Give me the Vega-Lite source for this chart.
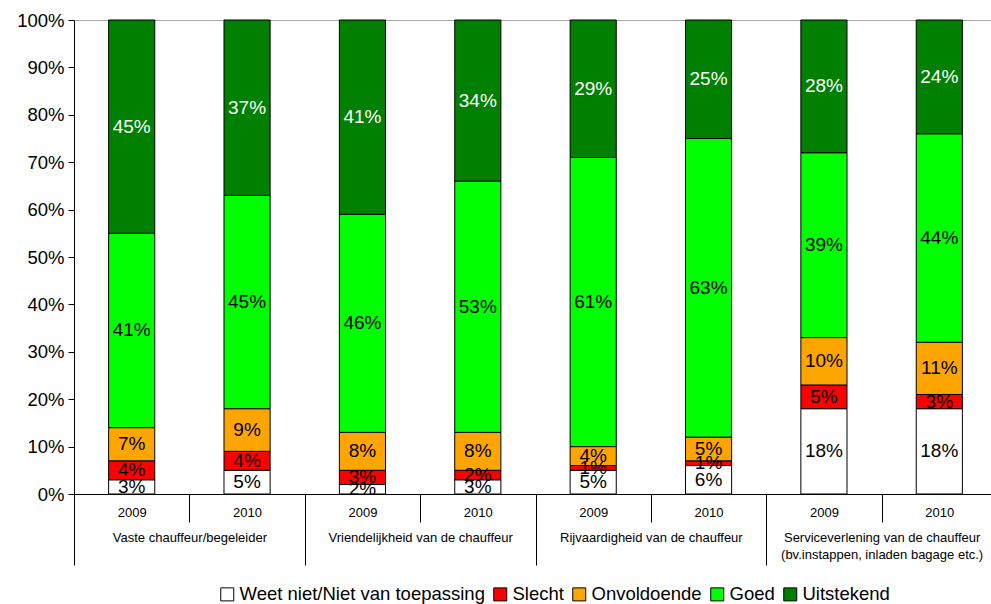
{
  "$schema": "https://vega.github.io/schema/vega-lite/v6.json",
  "width": 917,
  "height": 474,
  "autosize": "none",
  "padding": {"left": 74, "top": 20, "right": 0, "bottom": 110},
  "background": "white",
  "config": {"font": "Liberation Sans", "view": {"stroke": null}},
  "data": {"values": [
    {"cat": "Vaste chauffeur/begeleider", "bar": "Vaste chauffeur/begeleider|2009", "r": "Weet niet/Niet van toepassing", "k": 1, "v": 0.03},
    {"cat": "Vaste chauffeur/begeleider", "bar": "Vaste chauffeur/begeleider|2009", "r": "Slecht", "k": 2, "v": 0.04},
    {"cat": "Vaste chauffeur/begeleider", "bar": "Vaste chauffeur/begeleider|2009", "r": "Onvoldoende", "k": 3, "v": 0.07},
    {"cat": "Vaste chauffeur/begeleider", "bar": "Vaste chauffeur/begeleider|2009", "r": "Goed", "k": 4, "v": 0.41},
    {"cat": "Vaste chauffeur/begeleider", "bar": "Vaste chauffeur/begeleider|2009", "r": "Uitstekend", "k": 5, "v": 0.45},
    {"cat": "Vaste chauffeur/begeleider", "bar": "Vaste chauffeur/begeleider|2010", "r": "Weet niet/Niet van toepassing", "k": 1, "v": 0.05},
    {"cat": "Vaste chauffeur/begeleider", "bar": "Vaste chauffeur/begeleider|2010", "r": "Slecht", "k": 2, "v": 0.04},
    {"cat": "Vaste chauffeur/begeleider", "bar": "Vaste chauffeur/begeleider|2010", "r": "Onvoldoende", "k": 3, "v": 0.09},
    {"cat": "Vaste chauffeur/begeleider", "bar": "Vaste chauffeur/begeleider|2010", "r": "Goed", "k": 4, "v": 0.45},
    {"cat": "Vaste chauffeur/begeleider", "bar": "Vaste chauffeur/begeleider|2010", "r": "Uitstekend", "k": 5, "v": 0.37},
    {"cat": "Vriendelijkheid van de chauffeur", "bar": "Vriendelijkheid van de chauffeur|2009", "r": "Weet niet/Niet van toepassing", "k": 1, "v": 0.02},
    {"cat": "Vriendelijkheid van de chauffeur", "bar": "Vriendelijkheid van de chauffeur|2009", "r": "Slecht", "k": 2, "v": 0.03},
    {"cat": "Vriendelijkheid van de chauffeur", "bar": "Vriendelijkheid van de chauffeur|2009", "r": "Onvoldoende", "k": 3, "v": 0.08},
    {"cat": "Vriendelijkheid van de chauffeur", "bar": "Vriendelijkheid van de chauffeur|2009", "r": "Goed", "k": 4, "v": 0.46},
    {"cat": "Vriendelijkheid van de chauffeur", "bar": "Vriendelijkheid van de chauffeur|2009", "r": "Uitstekend", "k": 5, "v": 0.41},
    {"cat": "Vriendelijkheid van de chauffeur", "bar": "Vriendelijkheid van de chauffeur|2010", "r": "Weet niet/Niet van toepassing", "k": 1, "v": 0.03},
    {"cat": "Vriendelijkheid van de chauffeur", "bar": "Vriendelijkheid van de chauffeur|2010", "r": "Slecht", "k": 2, "v": 0.02},
    {"cat": "Vriendelijkheid van de chauffeur", "bar": "Vriendelijkheid van de chauffeur|2010", "r": "Onvoldoende", "k": 3, "v": 0.08},
    {"cat": "Vriendelijkheid van de chauffeur", "bar": "Vriendelijkheid van de chauffeur|2010", "r": "Goed", "k": 4, "v": 0.53},
    {"cat": "Vriendelijkheid van de chauffeur", "bar": "Vriendelijkheid van de chauffeur|2010", "r": "Uitstekend", "k": 5, "v": 0.34},
    {"cat": "Rijvaardigheid van de chauffeur", "bar": "Rijvaardigheid van de chauffeur|2009", "r": "Weet niet/Niet van toepassing", "k": 1, "v": 0.05},
    {"cat": "Rijvaardigheid van de chauffeur", "bar": "Rijvaardigheid van de chauffeur|2009", "r": "Slecht", "k": 2, "v": 0.01},
    {"cat": "Rijvaardigheid van de chauffeur", "bar": "Rijvaardigheid van de chauffeur|2009", "r": "Onvoldoende", "k": 3, "v": 0.04},
    {"cat": "Rijvaardigheid van de chauffeur", "bar": "Rijvaardigheid van de chauffeur|2009", "r": "Goed", "k": 4, "v": 0.61},
    {"cat": "Rijvaardigheid van de chauffeur", "bar": "Rijvaardigheid van de chauffeur|2009", "r": "Uitstekend", "k": 5, "v": 0.29},
    {"cat": "Rijvaardigheid van de chauffeur", "bar": "Rijvaardigheid van de chauffeur|2010", "r": "Weet niet/Niet van toepassing", "k": 1, "v": 0.06},
    {"cat": "Rijvaardigheid van de chauffeur", "bar": "Rijvaardigheid van de chauffeur|2010", "r": "Slecht", "k": 2, "v": 0.01},
    {"cat": "Rijvaardigheid van de chauffeur", "bar": "Rijvaardigheid van de chauffeur|2010", "r": "Onvoldoende", "k": 3, "v": 0.05},
    {"cat": "Rijvaardigheid van de chauffeur", "bar": "Rijvaardigheid van de chauffeur|2010", "r": "Goed", "k": 4, "v": 0.63},
    {"cat": "Rijvaardigheid van de chauffeur", "bar": "Rijvaardigheid van de chauffeur|2010", "r": "Uitstekend", "k": 5, "v": 0.25},
    {"cat": "Serviceverlening van de chauffeur|(bv.instappen, inladen bagage etc.)", "bar": "Serviceverlening|2009", "r": "Weet niet/Niet van toepassing", "k": 1, "v": 0.18},
    {"cat": "Serviceverlening van de chauffeur|(bv.instappen, inladen bagage etc.)", "bar": "Serviceverlening|2009", "r": "Slecht", "k": 2, "v": 0.05},
    {"cat": "Serviceverlening van de chauffeur|(bv.instappen, inladen bagage etc.)", "bar": "Serviceverlening|2009", "r": "Onvoldoende", "k": 3, "v": 0.10},
    {"cat": "Serviceverlening van de chauffeur|(bv.instappen, inladen bagage etc.)", "bar": "Serviceverlening|2009", "r": "Goed", "k": 4, "v": 0.39},
    {"cat": "Serviceverlening van de chauffeur|(bv.instappen, inladen bagage etc.)", "bar": "Serviceverlening|2009", "r": "Uitstekend", "k": 5, "v": 0.28},
    {"cat": "Serviceverlening van de chauffeur|(bv.instappen, inladen bagage etc.)", "bar": "Serviceverlening|2010", "r": "Weet niet/Niet van toepassing", "k": 1, "v": 0.18},
    {"cat": "Serviceverlening van de chauffeur|(bv.instappen, inladen bagage etc.)", "bar": "Serviceverlening|2010", "r": "Slecht", "k": 2, "v": 0.03},
    {"cat": "Serviceverlening van de chauffeur|(bv.instappen, inladen bagage etc.)", "bar": "Serviceverlening|2010", "r": "Onvoldoende", "k": 3, "v": 0.11},
    {"cat": "Serviceverlening van de chauffeur|(bv.instappen, inladen bagage etc.)", "bar": "Serviceverlening|2010", "r": "Goed", "k": 4, "v": 0.44},
    {"cat": "Serviceverlening van de chauffeur|(bv.instappen, inladen bagage etc.)", "bar": "Serviceverlening|2010", "r": "Uitstekend", "k": 5, "v": 0.24}
  ]},
  "layer": [
    {
      "mark": {"type": "bar", "width": {"band": 0.4}, "stroke": "black", "strokeWidth": 1},
      "encoding": {
        "x": {"field": "bar", "type": "nominal", "sort": null,
          "scale": {"range": [0, 923], "paddingInner": 0, "paddingOuter": 0},
          "axis": {"labelExpr": "slice(datum.label, -4)", "tickBand": "extent", "tickSize": 28, "tickColor": "black", "domainColor": "black", "labelFontSize": 13, "labelColor": "black", "labelPadding": -16, "labelAngle": 0, "labelBaseline": "top", "labelOverlap": false, "title": null}},
        "y": {"field": "v", "type": "quantitative", "stack": "zero",
          "scale": {"domain": [0, 1]},
          "axis": {"format": ".0%", "values": [0, 0.1, 0.2, 0.3, 0.4, 0.5, 0.6, 0.7, 0.8, 0.9, 1], "tickSize": 6, "tickColor": "black", "domainColor": "black", "labelFontSize": 18.5, "labelColor": "black", "labelPadding": 4, "title": null, "grid": true,
            "gridColor": {"condition": {"test": "datum.value === 1", "value": "#a6a6a6"}, "value": "transparent"}}},
        "color": {"field": "r", "type": "nominal",
          "sort": ["Weet niet/Niet van toepassing", "Slecht", "Onvoldoende", "Goed", "Uitstekend"],
          "scale": {"domain": ["Weet niet/Niet van toepassing", "Slecht", "Onvoldoende", "Goed", "Uitstekend"], "range": ["#FFFFFF", "#FF0000", "#FFA500", "#00FF00", "#008000"]},
          "legend": {"orient": "none", "legendX": 144, "legendY": 565, "direction": "horizontal", "title": null, "labelFontSize": 18.5, "labelColor": "black", "symbolType": "square", "symbolSize": 169, "symbolStrokeColor": "black", "symbolStrokeWidth": 1, "symbolOpacity": 1, "labelOffset": 3, "columnPadding": 6, "labelLimit": 400}},
        "order": {"field": "k"}
      }
    },
    {
      "mark": {"type": "text", "fontSize": 19, "font": "Liberation Sans"},
      "encoding": {
        "x": {"field": "bar", "type": "nominal", "sort": null,
          "scale": {"range": [0, 923], "paddingInner": 0, "paddingOuter": 0}, "axis": null},
        "y": {"field": "v", "type": "quantitative", "stack": "zero", "bandPosition": 0.5},
        "detail": {"field": "r"},
        "order": {"field": "k"},
        "text": {"field": "v", "type": "quantitative", "format": ".0%"},
        "color": {"condition": {"test": "datum.r === 'Uitstekend'", "value": "white"}, "value": "black"}
      }
    },
    {
      "mark": {"type": "rule", "opacity": 0},
      "encoding": {
        "x": {"field": "cat", "type": "nominal", "sort": null,
          "scale": {"range": [0, 923], "paddingInner": 0, "paddingOuter": 0},
          "axis": {"orient": "bottom", "labelExpr": "split(datum.label, '|')", "tickBand": "extent", "tickSize": 71, "tickColor": "black", "domain": false, "labelFontSize": 13, "labelColor": "black", "labelPadding": -34, "labelAngle": 0, "labelLineHeight": 17, "labelBaseline": "top", "labelOverlap": false, "labelLimit": 300, "title": null}}
      }
    }
  ],
  "resolve": {"scale": {"x": "independent"}, "axis": {"x": "independent"}}
}
